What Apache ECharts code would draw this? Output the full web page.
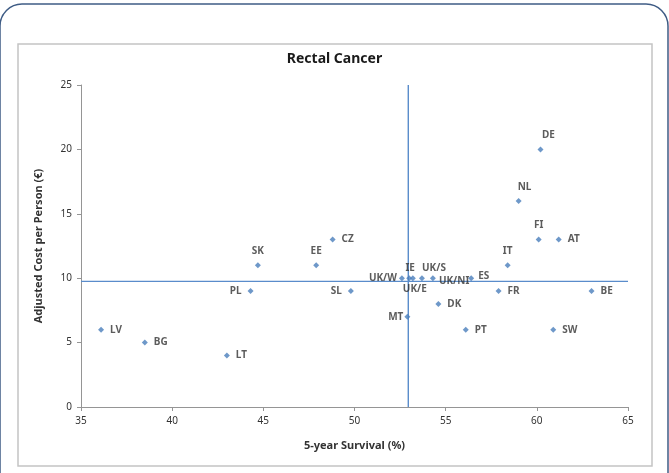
<!DOCTYPE html>
<html>
<head>
<meta charset="utf-8">
<script src="https://cdn.jsdelivr.net/npm/echarts@6/dist/echarts.min.js"></script>
<style>
  html, body { margin: 0; padding: 0; background: #ffffff; }
  #chart { width: 669px; height: 473px; }
</style>
</head>
<body>
<div id="chart"></div>
<script>
// Country codes with 5-year survival (%) and adjusted cost per person (€)
const codes = ['LV', 'BG', 'LT', 'PL', 'SK', 'EE', 'CZ', 'SL', 'UK/W', 'IE', 'UK/E', 'UK/S', 'UK/NI', 'ES', 'MT', 'DK', 'PT', 'IT', 'FR', 'SW', 'NL', 'DE', 'FI', 'AT', 'BE'];
const survival = [36.1, 38.5, 43.0, 44.3, 44.7, 47.9, 48.8, 49.8, 52.6, 53.0, 53.2, 53.7, 54.3, 56.4, 52.9, 54.6, 56.1, 58.4, 57.9, 60.9, 59.0, 60.2, 60.1, 61.2, 63.0];
const cost = [6, 5, 4, 9, 11, 11, 13, 9, 10, 10, 10, 10, 10, 10, 7, 8, 6, 11, 9, 6, 16, 20, 13, 13, 9];

// Reference lines: average survival and average cost
const meanSurvival = 52.95;
const meanCost = 9.75;

// Axis ranges and tick steps
const xTicks = { min: 35, max: 65, step: 5 };
const yTicks = { min: 0, max: 25, step: 5 };

// Where each country's label sits relative to its marker
const labelPlacement = {
  'LV': { position: 'right' }, 'BG': { position: 'right' }, 'LT': { position: 'right' },
  'PL': { position: 'left' }, 'SK': { position: 'top' }, 'EE': { position: 'top' },
  'CZ': { position: 'right' }, 'SL': { position: 'left' },
  'UK/W': { position: 'left', distance: 2 }, 'IE': { position: 'top', distance: 2, offset: [1, 0] },
  'UK/E': { position: 'bottom', distance: 3, offset: [2, 0] },
  'UK/S': { position: 'top', distance: 2, offset: [12, 0] },
  'UK/NI': { position: 'right', distance: 3, offset: [0, 3] },
  'ES': { position: 'right', distance: 4, offset: [0, -2] },
  'MT': { position: 'left', distance: 1 }, 'DK': { position: 'right' }, 'PT': { position: 'right' },
  'IT': { position: 'top' }, 'FR': { position: 'right' }, 'SW': { position: 'right' },
  'NL': { position: 'top', offset: [6, 0] }, 'DE': { position: 'top', offset: [8, 0] },
  'FI': { position: 'top' }, 'AT': { position: 'right' }, 'BE': { position: 'right' }
};

const points = codes.map((c, i) => {
  const p = labelPlacement[c] || { position: 'right' };
  return {
    name: c,
    value: [survival[i], cost[i]],
    label: Object.assign({ distance: 6 }, p)
  };
});

const font = 'Noto Sans';
const blue = '#4a7ebb';
const chart = echarts.init(document.getElementById('chart'), null, { renderer: 'canvas' });

// Straight reference line through two data points
function refLine(data) {
  return {
    type: 'line',
    data: data,
    symbol: 'none',
    silent: true,
    lineStyle: { color: '#5a8ccb', width: 1.4 },
    itemStyle: { color: blue },
    z: 1
  };
}

chart.setOption({
  animation: false,
  backgroundColor: '#ffffff',
  graphic: [
    {
      type: 'rect', silent: true, z: -10,
      shape: { x: 0, y: 4, width: 668, height: 520, r: 22 },
      style: { fill: '#ffffff', stroke: '#3f5c85', lineWidth: 1.5 }
    },
    {
      type: 'rect', silent: true, z: -9,
      shape: { x: 18, y: 44, width: 634, height: 422 },
      style: { fill: '#ffffff', stroke: '#c4c4c4', lineWidth: 1.5 }
    }
  ],
  title: {
    text: 'Rectal Cancer',
    left: 'center',
    top: 47,
    textStyle: { fontFamily: font, fontSize: 14, fontWeight: 'bold', color: '#1a1a1a' }
  },
  grid: { left: 81, right: 41, top: 85, bottom: 66 },
  xAxis: {
    type: 'value',
    min: xTicks.min, max: xTicks.max, interval: xTicks.step,
    name: '5-year Survival (%)',
    nameLocation: 'middle',
    nameGap: 33,
    nameTextStyle: { fontFamily: font, fontSize: 11, fontWeight: 'bold', color: '#333333' },
    axisLine: { show: true, lineStyle: { color: '#959595', width: 1 } },
    axisTick: { show: true, length: 4, lineStyle: { color: '#959595' } },
    axisLabel: { fontFamily: font, fontSize: 10, color: '#333333', margin: 9 },
    splitLine: { show: false }
  },
  yAxis: {
    type: 'value',
    min: yTicks.min, max: yTicks.max, interval: yTicks.step,
    name: 'Adjusted Cost per Person (€)',
    nameLocation: 'middle',
    nameGap: 37,
    nameRotate: 90,
    nameTextStyle: { fontFamily: font, fontSize: 11, fontWeight: 'bold', color: '#333333' },
    axisLine: { show: true, lineStyle: { color: '#959595', width: 1 } },
    axisTick: { show: true, length: 4, lineStyle: { color: '#959595' } },
    axisLabel: { fontFamily: font, fontSize: 10, color: '#333333', margin: 9 },
    splitLine: { show: false }
  },
  series: [
    refLine([[meanSurvival, yTicks.min], [meanSurvival, yTicks.max]]),
    refLine([[xTicks.min, meanCost], [xTicks.max, meanCost]]),
    {
      type: 'scatter',
      symbol: 'diamond',
      symbolSize: 6,
      itemStyle: { color: blue },
      label: {
        show: true,
        formatter: '{b}',
        fontFamily: font,
        fontSize: 10,
        fontWeight: 'bold',
        color: '#333333'
      },
      data: points,
      z: 3
    }
  ]
});
</script>
</body>
</html>
